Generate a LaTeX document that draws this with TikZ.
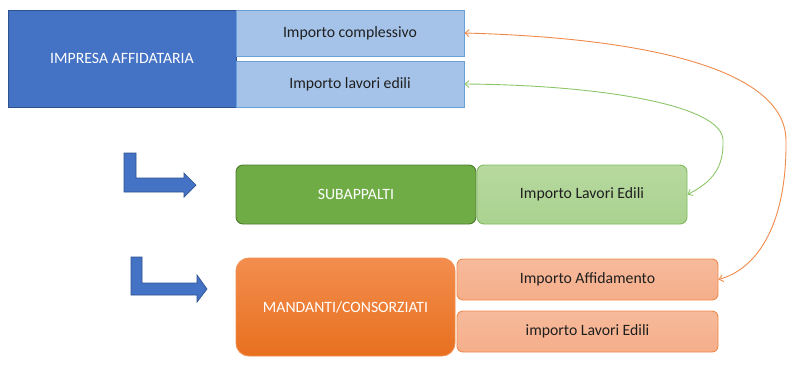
\documentclass[tikz,border=0pt]{standalone}
\usepackage{fontspec}
\setmainfont{Carlito}
\usetikzlibrary{arrows.meta}
\definecolor{bdark}{HTML}{4472C4}
\definecolor{bdarkline}{HTML}{2F528F}
\definecolor{blight}{HTML}{A5C3E9}
\definecolor{blightline}{HTML}{6A9FD8}
\definecolor{gdark}{HTML}{6FAC46}
\definecolor{gdarkline}{HTML}{4E7A2F}
\definecolor{glight}{HTML}{AAD28F}
\definecolor{glightline}{HTML}{80BB5E}
\definecolor{odarktop}{HTML}{F38D4E}
\definecolor{odarkbot}{HTML}{E8701F}
\definecolor{olight}{HTML}{F5AE8A}
\definecolor{olightline}{HTML}{F08A4B}
\definecolor{txt}{HTML}{1F1F1F}
\definecolor{oline}{HTML}{F08A4B}
\definecolor{gline}{HTML}{8CC66A}
\begin{document}
\begin{tikzpicture}[x=1pt,y=-1pt,
  box/.style={rectangle,inner sep=0pt,font=\fontsize{15.75}{18}\selectfont,line width=0.9pt},
  bluemain/.style={box,fill=bdark,draw=bdarkline,text=white},
  bluesub/.style={box,fill=blight,draw=blightline,text=txt},
  greenmain/.style={box,fill=gdark,draw=gdarkline,text=white,rounded corners=7pt},
  greensub/.style={box,top color=glight!85!white,bottom color=glight,draw=glightline,text=txt,rounded corners=7pt},
  orangemain/.style={box,top color=odarktop,bottom color=odarkbot,draw=odarktop,text=white,rounded corners=13pt},
  orangesub/.style={box,top color=olight!85!white,bottom color=olight,draw=olightline,text=txt,rounded corners=6pt},
  larrow/.style={fill=bdark,draw=bdarkline,line width=0.7pt},
  link/.style={line width=0.9pt,{Straight Barb[length=4pt,width=7pt]}-{Straight Barb[length=4pt,width=7pt]}}
]
\useasboundingbox (0,0) rectangle (788,376);
\node[bluemain,minimum width=228pt,minimum height=97pt] (imp) at (122,58.5) {IMPRESA AFFIDATARIA};
\node[bluesub,minimum width=228pt,minimum height=46pt] (icomp) at (350,33) {Importo complessivo};
\node[bluesub,minimum width=228pt,minimum height=46pt] (iled) at (350,84) {Importo lavori edili};
\node[greenmain,minimum width=240pt,minimum height=59pt] (sub) at (356,194.5) {SUBAPPALTI};
\node[greensub,minimum width=210pt,minimum height=59pt] (sled) at (582,194.5) {Importo Lavori Edili};
\node[orangemain,minimum width=219pt,minimum height=98pt] (man) at (345.5,307) {MANDANTI/CONSORZIATI};
\node[orangesub,minimum width=261pt,minimum height=41pt] (maff) at (587.5,279.5) {Importo Affidamento};
\node[orangesub,minimum width=261pt,minimum height=41pt] (mled) at (587.5,331.5) {importo Lavori Edili};
% L arrows
\draw[larrow] (124,153) -- (136,153) -- (136,178) -- (184,178) -- (184,173) -- (196,185) -- (184,197) -- (184,192) -- (124,192) -- cycle;
\draw[larrow] (131,257) -- (142,257) -- (142,283) -- (197,283) -- (197,275) -- (207,289) -- (197,302) -- (197,295) -- (131,295) -- cycle;
% connectors
\coordinate (gpeak) at (723,140);
\coordinate (opeak) at (786,140);
\draw[link,draw=gline] (iled.east) .. controls (600,85) and (722,105) .. (gpeak) .. controls (724,168) and (712,182) .. (sled.east);
\draw[link,draw=oline] (icomp.east) .. controls (650,38) and (785,70) .. (opeak) .. controls (787,220) and (760,268) .. (maff.east);
\end{tikzpicture}
\end{document}
